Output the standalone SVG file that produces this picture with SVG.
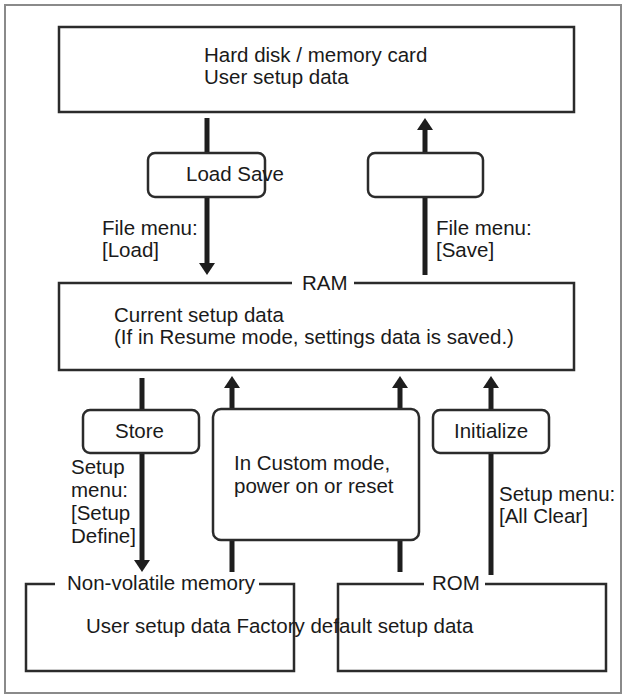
<svg xmlns="http://www.w3.org/2000/svg" width="626" height="695" viewBox="0 0 626 695">
<defs>
<style>
text{font-family:"Liberation Sans",Arial,Helvetica,sans-serif;font-size:20.5px;fill:#1a1a1a}
.box{fill:#fff;stroke:#2b2b2b;stroke-width:2.5}
.frame{fill:none;stroke:#2b2b2b;stroke-width:2.5}
.rbox{fill:#fff;stroke:#2b2b2b;stroke-width:2.5}
.conn{fill:none;stroke:#1e1e1e;stroke-width:5}
</style>
<marker id="ah" viewBox="0 0 12 16" refX="0" refY="8" markerWidth="12" markerHeight="16" markerUnits="userSpaceOnUse" orient="auto">
<path d="M0,0 L12,8 L0,16 Z" fill="#1e1e1e"/>
</marker>
</defs>
<rect x="0" y="0" width="626" height="695" fill="#fff"/>
<rect x="5" y="5" width="616" height="688" fill="none" stroke="#8a8a8a" stroke-width="2"/>

<g id="connectors">
<path class="conn" d="M207,118 V263" marker-end="url(#ah)"/>
<path class="conn" d="M425,275 V130" marker-end="url(#ah)"/>
<path class="conn" d="M142,378 V560" marker-end="url(#ah)"/>
<path class="conn" d="M232,572 V388" marker-end="url(#ah)"/>
<path class="conn" d="M400,572 V388" marker-end="url(#ah)"/>
<path class="conn" d="M491,575 V388" marker-end="url(#ah)"/>
</g>

<g id="harddisk">
<rect class="box" x="59" y="27" width="515" height="85"/>
<text x="204" y="62">Hard disk / memory card</text>
<text x="204" y="84">User setup data</text>
</g>

<g id="loadsave">
<rect class="rbox" x="148" y="153" width="117" height="44" rx="7"/>
<text x="186" y="181">Load Save</text>
</g>

<g id="savebox">
<rect class="rbox" x="368" y="153" width="115" height="44" rx="7"/>
</g>

<g id="label-load">
<text x="102" y="235">File menu:</text>
<text x="102" y="257">[Load]</text>
</g>
<g id="label-save">
<text x="436" y="235">File menu:</text>
<text x="436" y="257">[Save]</text>
</g>

<g id="ram">
<rect x="59" y="283" width="515" height="87" fill="#fff"/>
<path class="frame" d="M292,283 H59 V370 H574 V283 H354"/>
<text x="302" y="290">RAM</text>
<text x="114" y="322">Current setup data</text>
<text x="114" y="344">(If in Resume mode, settings data is saved.)</text>
</g>

<g id="store">
<rect class="rbox" x="83" y="410" width="116" height="43" rx="7"/>
<text x="115" y="438">Store</text>
</g>

<g id="custom">
<rect class="rbox" x="213" y="409" width="206" height="131" rx="8"/>
<text x="234" y="470">In Custom mode,</text>
<text x="234" y="493">power on or reset</text>
</g>

<g id="initialize">
<rect class="rbox" x="433" y="410" width="116" height="43" rx="7"/>
<text x="454" y="438">Initialize</text>
</g>

<g id="label-setup-define">
<text x="71" y="474">Setup</text>
<text x="71" y="497">menu:</text>
<text x="71" y="520">[Setup</text>
<text x="71" y="543">Define]</text>
</g>

<g id="label-all-clear">
<text x="499" y="501">Setup menu:</text>
<text x="499" y="523">[All Clear]</text>
</g>

<g id="nonvolatile">
<path class="frame" d="M55,584 H26 V671 H294 V584 H259"/>
<text x="67" y="590">Non-volatile memory</text>
</g>

<g id="rom">
<path class="frame" d="M424,584 H338 V671 H606 V584 H485"/>
<text x="432" y="590">ROM</text>
</g>

<text x="86" y="633">User setup data Factory default setup data</text>
</svg>
